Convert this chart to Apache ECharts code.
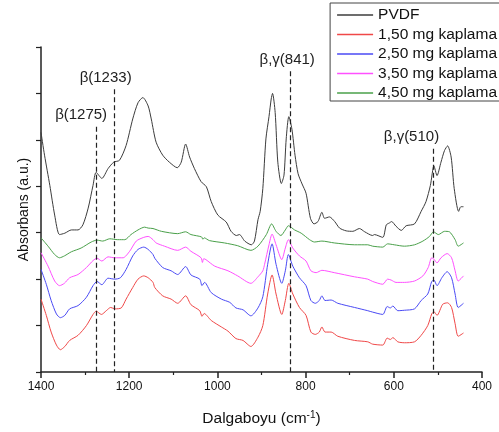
<!DOCTYPE html>
<html>
<head>
<meta charset="utf-8">
<script src="https://cdn.jsdelivr.net/npm/echarts@6/dist/echarts.min.js"></script>
<style>html,body{margin:0;padding:0;background:#fff}#c{width:499px;height:432px}</style>
</head>
<body>
<div id="c"></div>
<script>
var seriesNames = ['PVDF', '1,50 mg kaplama', '2,50 mg kaplama', '3,50 mg kaplama', '4,50 mg kaplama'];
var xTicks = [1400, 1200, 1000, 800, 600, 400];

var pvdf = [[1400,5.16],[1392,4.67],[1380,4.02],[1369,3.38],[1358,2.96],[1346,2.99],[1331,3.06],[1316,3.06],[1305,3.17],[1293,3.53],[1282,4.02],[1275,4.30],[1262,4.17],[1248,4.38],[1235,4.52],[1222,4.56],[1207,4.88],[1192,5.45],[1180,5.80],[1169,5.91],[1157,5.73],[1150,5.45],[1139,4.95],[1124,4.67],[1109,4.52],[1091,4.40],[1082,4.52],[1072,4.91],[1063,4.63],[1052,4.38],[1037,4.10],[1025,3.99],[1014,3.67],[999,3.38],[980,3.23],[969,3.03],[957,2.94],[950,2.96],[938,2.82],[923,2.74],[916,2.82],[908,3.28],[903,3.46],[897,3.95],[890,5.02],[883,5.50],[878,5.88],[875,6.00],[869,5.59],[863,4.52],[855,4.06],[849,4.24],[844,5.02],[838,5.50],[831,5.23],[824,4.67],[817,4.27],[808,4.05],[799,3.85],[789,3.31],[781,3.19],[772,3.24],[763,3.44],[757,3.31],[746,3.34],[734,3.24],[723,3.10],[708,3.04],[693,3.03],[678,3.09],[666,3.02],[648,2.94],[644,2.96],[625,2.90],[617,3.17],[610,3.21],[605,3.24],[595,3.14],[583,3.05],[572,3.15],[553,3.19],[538,3.46],[527,3.67],[517,4.02],[509,4.44],[502,4.23],[493,4.52],[485,4.77],[478,4.87],[470,4.63],[463,3.95],[453,3.46],[448,3.56],[442,3.56]];

var k150 = [[1400,1.57],[1388,1.22],[1377,0.86],[1365,0.58],[1356,0.48],[1346,0.55],[1335,0.68],[1316,0.79],[1297,1.00],[1282,1.24],[1275,1.31],[1263,1.24],[1252,1.32],[1242,1.39],[1232,1.36],[1218,1.38],[1207,1.57],[1192,1.82],[1180,2.00],[1167,2.07],[1157,2.03],[1146,1.93],[1142,1.82],[1124,1.64],[1105,1.57],[1090,1.48],[1072,1.64],[1060,1.45],[1040,1.32],[1035,1.20],[1030,1.26],[1014,1.11],[991,0.97],[976,0.88],[958,0.72],[942,0.68],[924,0.55],[908,0.75],[897,1.00],[886,1.68],[876,2.09],[867,1.68],[854,1.24],[846,1.54],[838,1.91],[829,1.68],[814,1.39],[799,1.22],[788,0.86],[778,0.81],[769,0.86],[763,0.97],[756,0.86],[742,0.86],[727,0.77],[689,0.68],[659,0.65],[648,0.60],[625,0.58],[615,0.73],[608,0.70],[602,0.74],[591,0.65],[576,0.63],[553,0.65],[538,0.79],[523,1.00],[514,1.25],[509,1.30],[502,1.22],[489,1.46],[478,1.49],[469,1.39],[461,1.04],[454,0.77],[442,0.84]];

var k250 = [[1400,2.21],[1388,1.89],[1377,1.54],[1365,1.25],[1356,1.17],[1346,1.22],[1335,1.36],[1316,1.43],[1297,1.61],[1282,1.86],[1273,1.95],[1262,1.88],[1248,2.02],[1233,2.00],[1220,2.03],[1207,2.21],[1192,2.50],[1180,2.64],[1167,2.69],[1157,2.64],[1146,2.53],[1142,2.45],[1124,2.25],[1105,2.18],[1090,2.10],[1072,2.27],[1060,2.09],[1040,2.00],[1035,1.86],[1029,1.93],[1014,1.71],[991,1.57],[972,1.50],[958,1.38],[942,1.34],[924,1.21],[908,1.38],[897,1.62],[886,2.32],[876,2.76],[867,2.32],[854,1.91],[846,2.18],[839,2.53],[829,2.28],[814,2.03],[799,1.86],[788,1.54],[778,1.48],[769,1.54],[763,1.64],[756,1.54],[742,1.55],[727,1.48],[689,1.39],[659,1.32],[648,1.29],[625,1.24],[615,1.41],[608,1.38],[602,1.42],[591,1.32],[576,1.33],[553,1.36],[538,1.54],[523,1.68],[514,1.95],[509,1.98],[502,1.86],[491,2.03],[479,2.16],[469,2.03],[461,1.68],[454,1.39],[442,1.48]];

var k350 = [[1400,2.57],[1384,2.28],[1369,1.96],[1358,1.86],[1347,1.91],[1335,2.03],[1316,2.10],[1297,2.25],[1282,2.40],[1273,2.45],[1262,2.39],[1248,2.48],[1233,2.46],[1214,2.46],[1199,2.60],[1184,2.82],[1167,2.90],[1157,2.92],[1146,2.85],[1139,2.78],[1120,2.71],[1090,2.62],[1072,2.69],[1060,2.60],[1037,2.46],[1034,2.36],[1031,2.44],[1026,2.42],[1006,2.28],[976,2.18],[954,2.07],[924,1.91],[908,2.05],[897,2.18],[893,2.32],[883,2.74],[876,2.97],[867,2.74],[854,2.42],[846,2.67],[839,2.85],[829,2.67],[814,2.50],[799,2.39],[788,2.18],[776,2.14],[763,2.19],[735,2.14],[689,2.05],[659,2.00],[648,1.95],[625,1.89],[614,2.00],[606,1.98],[595,1.93],[576,1.93],[553,1.96],[534,2.07],[522,2.25],[514,2.46],[509,2.43],[502,2.35],[493,2.46],[479,2.55],[469,2.46],[461,2.18],[454,1.96],[442,2.07]];

var k450 = [[1400,2.89],[1384,2.71],[1369,2.53],[1358,2.46],[1347,2.50],[1331,2.59],[1309,2.67],[1286,2.80],[1273,2.84],[1260,2.82],[1244,2.87],[1226,2.85],[1210,2.85],[1196,2.96],[1180,3.06],[1165,3.12],[1157,3.10],[1146,3.09],[1127,3.03],[1090,2.98],[1072,3.02],[1060,2.96],[1036,2.91],[1033,2.86],[1030,2.89],[1018,2.83],[984,2.78],[954,2.72],[924,2.62],[908,2.71],[889,2.96],[877,3.19],[867,3.03],[856,2.94],[846,3.06],[839,3.15],[825,3.06],[810,2.99],[791,2.85],[780,2.80],[763,2.82],[735,2.78],[689,2.74],[659,2.74],[648,2.71],[625,2.69],[614,2.76],[599,2.74],[576,2.71],[553,2.74],[534,2.82],[519,2.92],[510,3.02],[499,2.96],[485,3.03],[474,3.02],[461,2.85],[454,2.71],[442,2.78]];

var markerX = [1275, 1233, 835, 510];
var markerTop = [5.28, 6.09, 6.48, 4.81];
var markerLabels = ['\u03b2(1275)', '\u03b2(1233)', '\u03b2,\u03b3(841)', '\u03b2,\u03b3(510)'];

var colors = ['#3c3c3c', '#f04848', '#4a4af5', '#ff50ff', '#4aa04a'];
var allData = [pvdf, k150, k250, k350, k450];
var labelOffsets = [[-15, 0], [-9, 0], [-3, 0], [-22, 0]];
var FONT = 'Liberation Sans, Arial, sans-serif';

var series = seriesNames.map(function (n, i) {
  return {
    name: n, type: 'line', data: allData[i], symbol: 'none', smooth: 0.25,
    lineStyle: { color: colors[i], width: 1 }, itemStyle: { color: colors[i] },
    z: 3, silent: true
  };
});
series.push({
  name: 'markers', type: 'line', data: [], silent: true, z: 2,
  markLine: {
    symbol: ['none', 'none'], silent: true, animation: false,
    lineStyle: { color: '#222', type: [5, 3], width: 1.2 },
    label: { show: true, position: 'start', color: '#222', fontSize: 15, fontFamily: FONT, distance: 4 },
    data: markerX.map(function (x, i) {
      return [
        { coord: [x, markerTop[i]], label: { formatter: markerLabels[i], offset: labelOffsets[i] } },
        { coord: [x, 0] }
      ];
    })
  }
});

var chart = echarts.init(document.getElementById('c'), null, { renderer: 'canvas' });
chart.setOption({
  animation: false,
  backgroundColor: '#fff',
  textStyle: { fontFamily: FONT },
  grid: { left: 41, right: 17, top: 47, bottom: 57, containLabel: false },
  legend: {
    data: seriesNames.map(function (n, i) { return { name: n, itemStyle: { color: colors[i] } }; }),
    orient: 'vertical', right: -2, top: 3,
    icon: 'rect',
    borderColor: '#444', borderWidth: 1, padding: [4, 4, 0, 7],
    itemWidth: 36, itemHeight: 1.6, itemGap: 3.5,
    textStyle: { fontSize: 15.5, lineHeight: 15, color: '#111', fontFamily: FONT }
  },
  xAxis: {
    type: 'value', inverse: true, min: 400, max: 1400, interval: 200,
    name: 'Dalgaboyu (cm{sup|-1})', nameLocation: 'middle', nameGap: 38,
    nameTextStyle: { fontSize: 15.5, color: '#111', fontFamily: FONT,
      rich: { sup: { fontSize: 10, verticalAlign: 'top', padding: [0, 0, 8, 0], color: '#111' } } },
    axisLine: { show: true, lineStyle: { color: '#222', width: 1.5 } },
    axisTick: { show: true, inside: false, length: 6, lineStyle: { color: '#222', width: 1.5 } },
    minorTick: { show: true, splitNumber: 2, length: 3, lineStyle: { color: '#222', width: 1.2 } },
    axisLabel: { fontSize: 12, color: '#111', margin: 9, fontFamily: FONT,
      formatter: function (v) { return String(v); } },
    splitLine: { show: false }
  },
  yAxis: {
    type: 'value', min: 0, max: 7, interval: 1,
    name: 'Absorbans (a.u.)', nameLocation: 'middle', nameGap: 10, nameRotate: 90,
    nameTextStyle: { fontSize: 14, color: '#111', fontFamily: FONT },
    axisLine: { show: true, lineStyle: { color: '#222', width: 1.5 } },
    axisTick: { show: true, inside: false, length: 5, lineStyle: { color: '#222', width: 1.2 } },
    axisLabel: { show: false },
    splitLine: { show: false }
  },
  series: series
});
</script>
</body>
</html>
